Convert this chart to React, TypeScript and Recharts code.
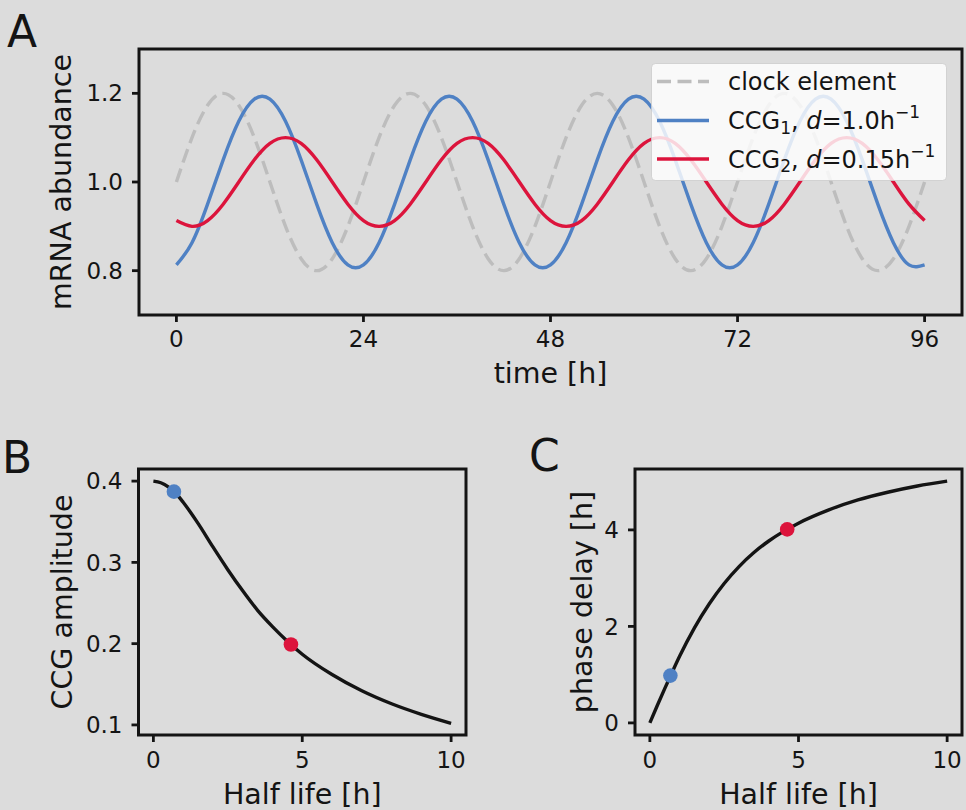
import React from 'react';
import {
  LineChart, Line, ComposedChart, Scatter, XAxis, YAxis, ReferenceArea, Legend,
} from 'recharts';

// ---------- Panel A data (time in hours, mRNA abundance) ----------
const timeH = [
  0, 2, 4, 6, 8, 10, 12, 14, 16, 18, 20, 22,
  24, 26, 28, 30, 32, 34, 36, 38, 40, 42, 44, 46,
  48, 50, 52, 54, 56, 58, 60, 62, 64, 66, 68, 70,
  72, 74, 76, 78, 80, 82, 84, 86, 88, 90, 92, 94, 96,
];
const clockElement = [
  1.0, 1.1, 1.173, 1.2, 1.173, 1.1, 1.0, 0.9, 0.827, 0.8, 0.827, 0.9,
  1.0, 1.1, 1.173, 1.2, 1.173, 1.1, 1.0, 0.9, 0.827, 0.8, 0.827, 0.9,
  1.0, 1.1, 1.173, 1.2, 1.173, 1.1, 1.0, 0.9, 0.827, 0.8, 0.827, 0.9,
  1.0, 1.1, 1.173, 1.2, 1.173, 1.1, 1.0, 0.9, 0.827, 0.8, 0.827, 0.9, 1.0,
];
const ccg1 = [
  0.813, 0.863, 0.95, 1.05, 1.137, 1.187, 1.187, 1.137, 1.05, 0.95, 0.863, 0.813,
  0.813, 0.863, 0.95, 1.05, 1.137, 1.187, 1.187, 1.137, 1.05, 0.95, 0.863, 0.813,
  0.813, 0.863, 0.95, 1.05, 1.137, 1.187, 1.187, 1.137, 1.05, 0.95, 0.863, 0.813,
  0.813, 0.863, 0.95, 1.05, 1.137, 1.187, 1.187, 1.137, 1.05, 0.95, 0.863, 0.813, 0.813,
];
const ccg2 = [
  0.913, 0.9, 0.913, 0.95, 1.0, 1.05, 1.087, 1.1, 1.087, 1.05, 1.0, 0.95,
  0.913, 0.9, 0.913, 0.95, 1.0, 1.05, 1.087, 1.1, 1.087, 1.05, 1.0, 0.95,
  0.913, 0.9, 0.913, 0.95, 1.0, 1.05, 1.087, 1.1, 1.087, 1.05, 1.0, 0.95,
  0.913, 0.9, 0.913, 0.95, 1.0, 1.05, 1.087, 1.1, 1.087, 1.05, 1.0, 0.95, 0.913,
];
const timeTicks = [0, 24, 48, 72, 96];
const abundanceTicks = [0.8, 1.0, 1.2];

// ---------- Panels B & C data (half life in hours) ----------
const halfLife = [0, 0.25, 0.5, 0.75, 1, 1.5, 2, 2.5, 3, 3.5, 4, 4.5, 5, 6, 7, 8, 9, 10];
const amplitude = [0.4, 0.398, 0.393, 0.385, 0.374, 0.348, 0.319, 0.291, 0.265, 0.241, 0.221, 0.203, 0.187, 0.162, 0.142, 0.126, 0.113, 0.102];
const phaseDelay = [0, 0.36, 0.71, 1.05, 1.38, 1.97, 2.47, 2.89, 3.24, 3.53, 3.77, 3.97, 4.14, 4.41, 4.62, 4.78, 4.91, 5.01];
const ccg1HalfLife = 0.69;
const ccg1Amp = 0.387;
const ccg1Phase = 0.98;
const ccg2HalfLife = 4.62;
const ccg2Amp = 0.199;
const ccg2Phase = 4.01;
const halfLifeTicks = [0, 5, 10];
const ampTicks = [0.1, 0.2, 0.3, 0.4];
const phaseTicks = [0, 2, 4];

// ---------- styles ----------
const FONT = '"DejaVu Sans", Verdana, sans-serif';
const BG = '#dcdcdc';
const INK = '#141414';
const GRAY = '#bdbdbd';
const BLUE = '#4f81c4';
const RED = '#dc143c';
const TICK_FS = 23;
const LABEL_FS = 28.5;
const LW = 3.4;

const seriesA = timeH.map((t, i) => ({ t, clock: clockElement[i], c1: ccg1[i], c2: ccg2[i] }));
const curveB = halfLife.map((h, i) => ({ h, v: amplitude[i] }));
const curveC = halfLife.map((h, i) => ({ h, v: phaseDelay[i] }));

const tickStyle = { fill: INK, fontSize: TICK_FS, fontFamily: FONT };
const tickLine = { stroke: INK, strokeWidth: 2.8 };

const XLabel = (text: string, dyBase: number) => (props: any) => {
  const vb = props.viewBox || {};
  const x = vb.x + vb.width / 2;
  const y = vb.y + dyBase;
  return (
    <text x={x} y={y} textAnchor="middle" fill={INK} fontSize={LABEL_FS} fontFamily={FONT}>
      {text}
    </text>
  );
};

const YLabel = (text: string, baseX: number) => (props: any) => {
  const vb = props.viewBox || {};
  const cy = vb.y + vb.height / 2;
  return (
    <text x={baseX} y={cy} transform={`rotate(-90 ${baseX} ${cy})`} textAnchor="middle"
      fill={INK} fontSize={LABEL_FS} fontFamily={FONT}>
      {text}
    </text>
  );
};

const LegendBox = () => (
  <svg width={296} height={118} style={{ display: 'block' }}>
    <rect x={0.5} y={0.5} width={295} height={117} rx={4} ry={4}
      fill="rgba(255,255,255,0.82)" stroke="rgba(204,204,204,0.8)" strokeWidth={1} />
    <line x1={6} x2={58} y1={18.5} y2={18.5} stroke={GRAY} strokeWidth={LW} strokeDasharray="14 6.5" />
    <line x1={6} x2={58} y1={57.5} y2={57.5} stroke={BLUE} strokeWidth={LW} />
    <line x1={6} x2={58} y1={96} y2={96} stroke={RED} strokeWidth={LW} />
    <text x={77} y={26.5} fill={INK} fontSize={24} fontFamily={FONT}>clock element</text>
    <text x={77} y={66} fill={INK} fontSize={24} fontFamily={FONT}>
      <tspan>CCG</tspan>
      <tspan fontSize={17} dy={4.8}>1</tspan>
      <tspan dy={-4.8}>, </tspan>
      <tspan fontStyle="italic">d</tspan>
      <tspan>=1.0h</tspan>
      <tspan fontSize={17} dy={-10.7}>−1</tspan>
    </text>
    <text x={77} y={104.5} fill={INK} fontSize={24} fontFamily={FONT}>
      <tspan>CCG</tspan>
      <tspan fontSize={17} dy={4.8}>2</tspan>
      <tspan dy={-4.8}>, </tspan>
      <tspan fontStyle="italic">d</tspan>
      <tspan>=0.15h</tspan>
      <tspan fontSize={17} dy={-10.7}>−1</tspan>
    </text>
  </svg>
);

const dot = (color: string) => (p: any) => <circle cx={p.cx} cy={p.cy} r={7.3} fill={color} />;

const panelLetter: React.CSSProperties = {
  position: 'absolute', fontFamily: FONT, fontSize: 44, color: INK, lineHeight: 1, margin: 0,
};

export default function App() {
  const xDomA: [number, number] = [-4.8, 100.8];
  const yDomA: [number, number] = [0.7, 1.3];
  const xDomBC: [number, number] = [-0.5, 10.5];
  const yDomB: [number, number] = [0.0876, 0.4149];
  const yDomC: [number, number] = [-0.2506, 5.262];

  return (
    <div style={{ position: 'absolute', left: 0, top: 0, width: 966, height: 810, background: BG, overflow: 'hidden', fontFamily: FONT }}>
      {/* Panel A */}
      <div style={{ position: 'absolute', left: 0, top: 0 }}>
        <LineChart width={966} height={400} data={seriesA} margin={{ top: 49, right: 4, left: 0, bottom: 25 }}>
          <XAxis dataKey="t" type="number" domain={xDomA} ticks={timeTicks} allowDataOverflow
            tick={tickStyle} tickLine={tickLine} tickSize={7} tickMargin={9} axisLine={false} height={60}
            label={{ content: XLabel('time [h]', 68) }} />
          <YAxis type="number" domain={yDomA} ticks={abundanceTicks} allowDataOverflow width={139}
            tickFormatter={(v: number) => v.toFixed(1)}
            tick={tickStyle} tickLine={tickLine} tickSize={7} tickMargin={9} axisLine={false}
            label={{ content: YLabel('mRNA abundance', 71) }} />
          <Line dataKey="clock" type="natural" stroke={GRAY} strokeWidth={LW} strokeDasharray="14 6.5" dot={false} isAnimationActive={false} />
          <Line dataKey="c1" type="natural" stroke={BLUE} strokeWidth={LW} dot={false} isAnimationActive={false} />
          <Line dataKey="c2" type="natural" stroke={RED} strokeWidth={LW} dot={false} isAnimationActive={false} />
          <ReferenceArea x1={xDomA[0]} x2={xDomA[1]} y1={yDomA[0]} y2={yDomA[1]} ifOverflow="visible"
            fill="none" fillOpacity={0} stroke={INK} strokeWidth={3} />
          <Legend layout="horizontal" verticalAlign="middle" align="center"
            wrapperStyle={{ left: 651, top: 63, width: 296, height: 118 }} content={() => <LegendBox />} />
        </LineChart>
      </div>

      {/* Panel B */}
      <div style={{ position: 'absolute', left: 0, top: 420 }}>
        <ComposedChart width={480} height={390} data={curveB} margin={{ top: 49, right: 14, left: 0, bottom: 15 }}>
          <XAxis dataKey="h" type="number" domain={xDomBC} ticks={halfLifeTicks} allowDataOverflow
            tick={tickStyle} tickLine={tickLine} tickSize={7} tickMargin={10} axisLine={false} height={60}
            label={{ content: XLabel('Half life [h]', 69) }} />
          <YAxis type="number" domain={yDomB} ticks={ampTicks} allowDataOverflow width={138.5}
            tickFormatter={(v: number) => v.toFixed(1)}
            tick={tickStyle} tickLine={tickLine} tickSize={7} tickMargin={9} axisLine={false}
            label={{ content: YLabel('CCG amplitude', 72) }} />
          <Scatter data={[{ h: ccg1HalfLife, v: ccg1Amp }]} dataKey="v" shape={dot(BLUE)} isAnimationActive={false} />
          <Scatter data={[{ h: ccg2HalfLife, v: ccg2Amp }]} dataKey="v" shape={dot(RED)} isAnimationActive={false} />
          <Line dataKey="v" type="monotone" stroke={INK} strokeWidth={LW} dot={false} isAnimationActive={false} />
          <ReferenceArea x1={xDomBC[0]} x2={xDomBC[1]} y1={yDomB[0]} y2={yDomB[1]} ifOverflow="visible"
            fill="none" fillOpacity={0} stroke={INK} strokeWidth={3} />
        </ComposedChart>
      </div>

      {/* Panel C */}
      <div style={{ position: 'absolute', left: 480, top: 420 }}>
        <ComposedChart width={486} height={390} data={curveC} margin={{ top: 49, right: 4, left: 0, bottom: 15 }}>
          <XAxis dataKey="h" type="number" domain={xDomBC} ticks={halfLifeTicks} allowDataOverflow
            tick={tickStyle} tickLine={tickLine} tickSize={7} tickMargin={10} axisLine={false} height={60}
            label={{ content: XLabel('Half life [h]', 69) }} />
          <YAxis type="number" domain={yDomC} ticks={phaseTicks} allowDataOverflow width={155}
            tick={tickStyle} tickLine={tickLine} tickSize={7} tickMargin={9} axisLine={false}
            label={{ content: YLabel('phase delay [h]', 112) }} />
          <Scatter data={[{ h: ccg1HalfLife, v: ccg1Phase }]} dataKey="v" shape={dot(BLUE)} isAnimationActive={false} />
          <Scatter data={[{ h: ccg2HalfLife, v: ccg2Phase }]} dataKey="v" shape={dot(RED)} isAnimationActive={false} />
          <Line dataKey="v" type="monotone" stroke={INK} strokeWidth={LW} dot={false} isAnimationActive={false} />
          <ReferenceArea x1={xDomBC[0]} x2={xDomBC[1]} y1={yDomC[0]} y2={yDomC[1]} ifOverflow="visible"
            fill="none" fillOpacity={0} stroke={INK} strokeWidth={3} />
        </ComposedChart>
      </div>

      <div style={{ ...panelLetter, left: 7, top: 10 }}>A</div>
      <div style={{ ...panelLetter, left: 2, top: 436 }}>B</div>
      <div style={{ ...panelLetter, left: 529, top: 434 }}>C</div>
    </div>
  );
}
